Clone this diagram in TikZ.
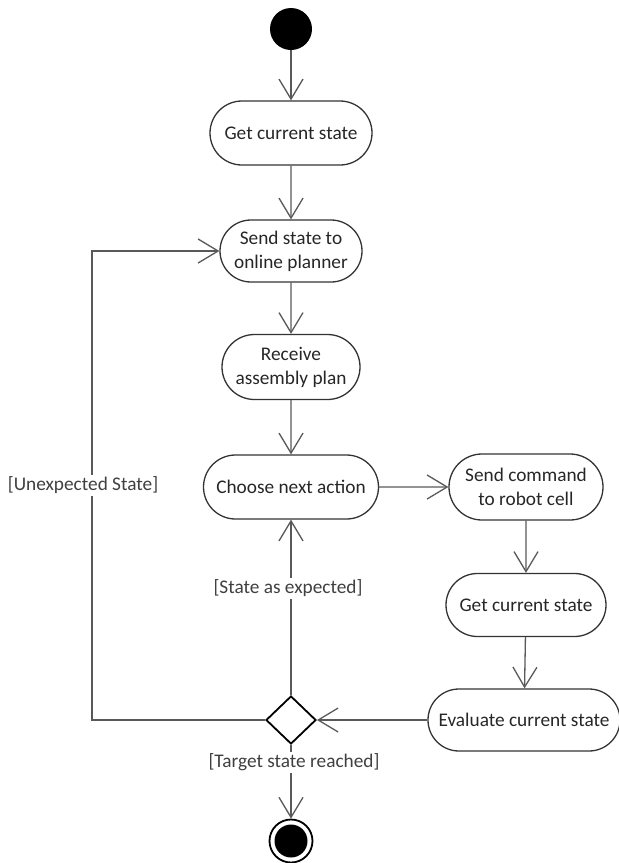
\documentclass[tikz,border=0pt]{standalone}
\usepackage{fontspec}
\setmainfont{Carlito}
\usetikzlibrary{arrows.meta,shapes.misc,shapes.geometric}

\begin{document}
\begin{tikzpicture}[x=1pt,y=-1pt,
    act/.style={draw=black!80,line width=1.3pt,rounded rectangle,align=center,
        inner sep=0pt,text=black!85,font=\fontsize{19.3}{24}\selectfont},
    flow/.style={draw=black!65,line width=1.3pt,-{Straight Barb[length=20pt,width=24pt]}},
    guard/.style={fill=white,text=black!75,inner sep=2pt,font=\fontsize{19.3}{24}\selectfont}]
    \useasboundingbox (0,0) rectangle (619,863);

    \node[circle,fill=black,minimum size=42pt,inner sep=0pt] (start) at (291,29) {};
    \node[act,minimum width=162pt,minimum height=64pt] (get1) at (291,133) {Get current state};
    \node[act,minimum width=142pt,minimum height=62pt] (send) at (291,251) {Send state to\\online planner};
    \node[act,minimum width=138pt,minimum height=65pt] (recv) at (291,367) {Receive\\assembly plan};
    \node[act,minimum width=175pt,minimum height=64pt] (choose) at (291,487) {Choose next action};
    \node[act,minimum width=154pt,minimum height=66pt] (cmd) at (526,487) {Send command\\to robot cell};
    \node[act,minimum width=160pt,minimum height=63pt] (get2) at (526,605) {Get current state};
    \node[act,minimum width=192pt,minimum height=62pt] (eval) at (524,720) {Evaluate current state};
    \node[diamond,draw=black,line width=1.8pt,minimum width=50pt,minimum height=48pt,inner sep=0pt] (dec) at (291,720) {};
    \node[circle,draw=black,line width=1.8pt,minimum size=43pt,inner sep=0pt] (stop) at (291,841) {};
    \fill[black] (stop) circle (16.5pt);
    \coordinate (back) at (92,720);

    \draw[flow] (start) -- (get1);
    \draw[flow] (get1) -- (send);
    \draw[flow] (send) -- (recv);
    \draw[flow] (recv) -- (choose);
    \draw[flow] (choose) -- (cmd);
    \draw[flow] (cmd) -- (get2);
    \draw[flow] (get2) -- (eval);
    \draw[flow] (eval) -- (dec);
    \draw[flow] (dec) -- node[guard,pos=0.61,xshift=-3pt]{[State as expected]} (choose);
    \draw[flow] (dec) -- node[guard,pos=0.24,xshift=3pt]{[Target state reached]} (stop);
    \draw[flow] (dec) -- (back) |- node[guard,pos=0.25,xshift=-9pt]{[Unexpected State]} (send);
\end{tikzpicture}
\end{document}
